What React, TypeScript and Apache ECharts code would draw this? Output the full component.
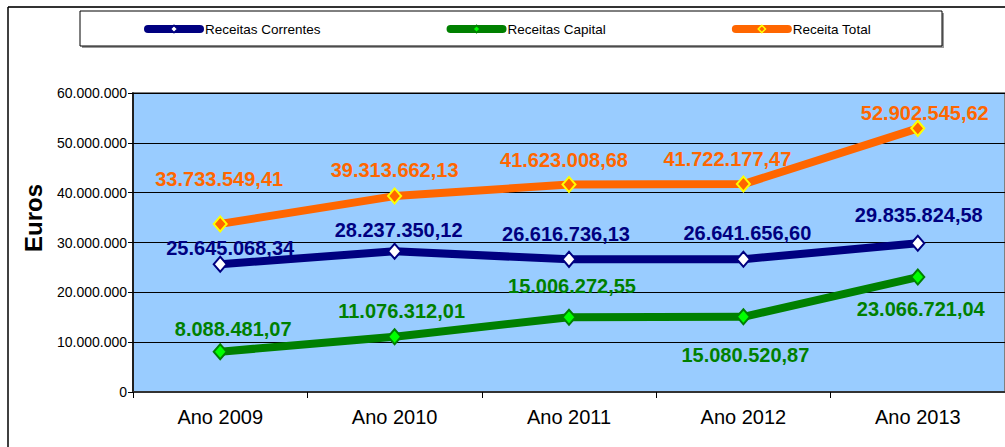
import React, { useEffect, useRef } from "react";
import * as echarts from "echarts";

const categories = ["Ano 2009", "Ano 2010", "Ano 2011", "Ano 2012", "Ano 2013"];
const receitasCorrentes = [25645068.34, 28237350.12, 26616736.13, 26641656.6, 29835824.58];
const receitasCapital = [8088481.07, 11076312.01, 15006272.55, 15080520.87, 23066721.04];
const receitaTotal = [33733549.41, 39313662.13, 41623008.68, 41722177.47, 52902545.62];
const yTicks = { min: 0, max: 60000000, interval: 10000000 };

// label offsets (dx, dy) from each marker centre, as placed in the reference
const correntesLabelOffsets = [[10, -16], [4, -21], [-3, -25], [4, -26], [1, -28]];
const capitalLabelOffsets = [[13, -23], [7, -26], [3, -31], [2, 38], [3, 32]];
const totalLabelOffsets = [[-1, -45], [0, -26], [-5, -25], [-16, -25], [7, -15]];

const FONT = '"Liberation Sans", Arial, sans-serif';

function fmtInt(n: number): string {
  const s = Math.round(n).toString();
  return s.replace(/\B(?=(\d{3})+(?!\d))/g, ".");
}
function fmtDec(n: number): string {
  const [i, d] = n.toFixed(2).split(".");
  return i.replace(/\B(?=(\d{3})+(?!\d))/g, ".") + "," + d;
}

function makeSeries(
  name: string,
  values: number[],
  offsets: number[][],
  lineColor: string,
  fill: string,
  border: string,
  labelColor: string
) {
  return {
    name,
    type: "line",
    data: values.map((v, i) => ({ value: v, label: { offset: offsets[i] } })),
    symbol: "diamond",
    symbolSize: [13, 15],
    lineStyle: { color: lineColor, width: 8 },
    itemStyle: { color: fill, borderColor: border, borderWidth: 2 },
    label: {
      show: true,
      position: "inside",
      formatter: (p: any) => fmtDec(p.value),
      color: labelColor,
      fontSize: 20,
      fontWeight: "bold",
      fontFamily: FONT,
    },
    emphasis: { disabled: true },
  };
}

export default function App() {
  const ref = useRef<HTMLDivElement>(null);
  useEffect(() => {
    if (!ref.current) return;
    const chart = echarts.init(ref.current, null, { renderer: "svg" });
    chart.setOption({
      animation: false,
      backgroundColor: "#ffffff",
      legend: {
        left: 139,
        top: 17,
        itemWidth: 52,
        itemHeight: 9,
        itemGap: 126,
        lineStyle: { width: 8, cap: "round" },
        itemStyle: { borderWidth: 1.5 },
        textStyle: { fontSize: 13.5, fontFamily: FONT, color: "#000" },
        data: ["Receitas Correntes", "Receitas Capital", "Receita Total"],
      },
      grid: {
        left: 133,
        top: 93,
        width: 885,
        height: 299,
        show: true,
        backgroundColor: "#99CCFF",
        borderColor: "#808080",
        borderWidth: 2,
      },
      xAxis: {
        type: "category",
        data: categories,
        boundaryGap: true,
        axisLine: { lineStyle: { color: "#333", width: 2 } },
        axisTick: { show: true, length: 6, lineStyle: { color: "#000" } },
        axisLabel: { fontSize: 20, fontFamily: FONT, color: "#000", margin: 15 },
      },
      yAxis: {
        type: "value",
        min: yTicks.min,
        max: yTicks.max,
        interval: yTicks.interval,
        axisLine: { show: true, lineStyle: { color: "#000", width: 1.5 } },
        axisTick: { show: true, length: 5, lineStyle: { color: "#000" } },
        axisLabel: {
          fontSize: 14,
          fontFamily: FONT,
          color: "#000",
          margin: 6,
          formatter: (v: number) => fmtInt(v),
        },
        splitLine: { lineStyle: { color: "#000", width: 1 } },
      },
      graphic: [
        { type: "line", shape: { x1: 8, y1: 7, x2: 1005, y2: 7 }, style: { stroke: "#333", lineWidth: 2 } },
        { type: "line", shape: { x1: 8, y1: 7, x2: 8, y2: 447 }, style: { stroke: "#000", lineWidth: 1.5 } },
        { type: "rect", shape: { x: 82, y: 13, width: 862, height: 35 }, style: { fill: "#999", stroke: null } },
        { type: "rect", shape: { x: 80, y: 11, width: 862, height: 35 }, style: { fill: "#fff", stroke: "#000", lineWidth: 1 } },
        {
          type: "text",
          x: 33,
          y: 218,
          rotation: Math.PI / 2,
          style: {
            text: "Euros",
            font: `bold 24px ${FONT}`,
            fill: "#000",
            textAlign: "center",
            textVerticalAlign: "middle",
          },
        },
      ],
      series: [
        makeSeries("Receitas Correntes", receitasCorrentes, correntesLabelOffsets, "#000080", "#ffffff", "#000080", "#000080"),
        makeSeries("Receitas Capital", receitasCapital, capitalLabelOffsets, "#008000", "#00FF00", "#008000", "#008000"),
        makeSeries("Receita Total", receitaTotal, totalLabelOffsets, "#FF6600", "#FF6600", "#FFFF00", "#FF6600"),
      ],
    });
    return () => chart.dispose();
  }, []);
  return (
    <div
      ref={ref}
      style={{ position: "absolute", left: 0, top: 0, width: 1005, height: 447 }}
    />
  );
}
